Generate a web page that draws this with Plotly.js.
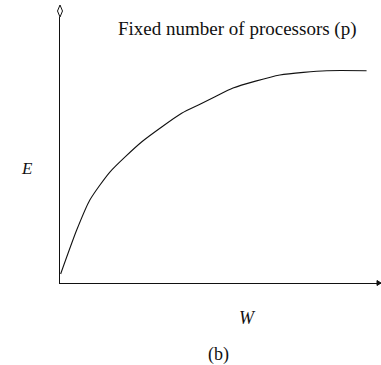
<!DOCTYPE html>
<html>
<head>
<meta charset="utf-8">
<script src="https://cdn.plot.ly/plotly-3.0.1.min.js"></script>
<style>html,body{margin:0;padding:0;background:#fff;}#chart{width:381px;height:365px;}</style>
</head>
<body>
<div id="chart"></div>
<script>
// Workload W (arbitrary units) and efficiency E (arbitrary units)
var workload = [0.2, 5.2, 9.3, 15.6, 25.5, 37.9, 43.6, 48.3, 53.9, 68.5, 83.1, 95.5];
var efficiency = [3.4, 19.9, 31.2, 41.8, 53.1, 63.8, 67.2, 70.0, 73.3, 78.2, 79.8, 79.8];
var titleText = "Fixed number of processors (p)";
var xLabel = "W";
var yLabel = "E";
var caption = "(b)";

var serif = "Liberation Serif, Times New Roman, serif";

var trace = {
  x: workload,
  y: efficiency,
  type: "scatter",
  mode: "lines",
  line: {color: "#111", width: 1.1, shape: "spline", smoothing: 0.6},
  hoverinfo: "skip"
};

var layout = {
  width: 381, height: 365,
  margin: {l: 60, r: 0, t: 17, b: 82, pad: 0},
  paper_bgcolor: "#fff", plot_bgcolor: "#fff",
  showlegend: false,
  xaxis: {range: [0, 100], showline: true, linecolor: "#111", linewidth: 1.2,
          showgrid: false, zeroline: false, showticklabels: false, ticks: "", fixedrange: true},
  yaxis: {range: [0, 100], showline: true, linecolor: "#111", linewidth: 1.2,
          showgrid: false, zeroline: false, showticklabels: false, ticks: "", fixedrange: true},
  shapes: [
    {type: "path", xref: "paper", yref: "paper", xsizemode: "pixel", ysizemode: "pixel",
     xanchor: 0, yanchor: 1, path: "M0,0 L-2.5,6 L0,12 L2.5,6 Z",
     line: {color: "#111", width: 1}, fillcolor: "#fff"},
    {type: "path", xref: "paper", yref: "paper", xsizemode: "pixel", ysizemode: "pixel",
     xanchor: 1, yanchor: 0, path: "M-4,2.5 L0,0 L-4,-2.5 Z",
     line: {color: "#111", width: 1}, fillcolor: "#111"}
  ],
  annotations: [
    {text: titleText, xref: "paper", yref: "paper", x: 0.553, y: 0.955,
     xanchor: "center", yanchor: "middle", showarrow: false,
     font: {family: serif, size: 19, color: "#111"}},
    {text: "<i>" + yLabel + "</i>", xref: "paper", yref: "paper", x: -0.104, y: 0.432,
     xanchor: "center", yanchor: "middle", showarrow: false,
     font: {family: serif, size: 17, color: "#111"}},
    {text: "<i>" + xLabel + "</i>", xref: "paper", yref: "paper", x: 0.583, y: -0.132,
     xanchor: "center", yanchor: "middle", showarrow: false,
     font: {family: serif, size: 18, color: "#111"}},
    {text: caption, xref: "paper", yref: "paper", x: 0.495, y: -0.267,
     xanchor: "center", yanchor: "middle", showarrow: false,
     font: {family: serif, size: 18, color: "#111"}}
  ]
};

Plotly.newPlot("chart", [trace], layout, {displayModeBar: false, staticPlot: true});
</script>
</body>
</html>
